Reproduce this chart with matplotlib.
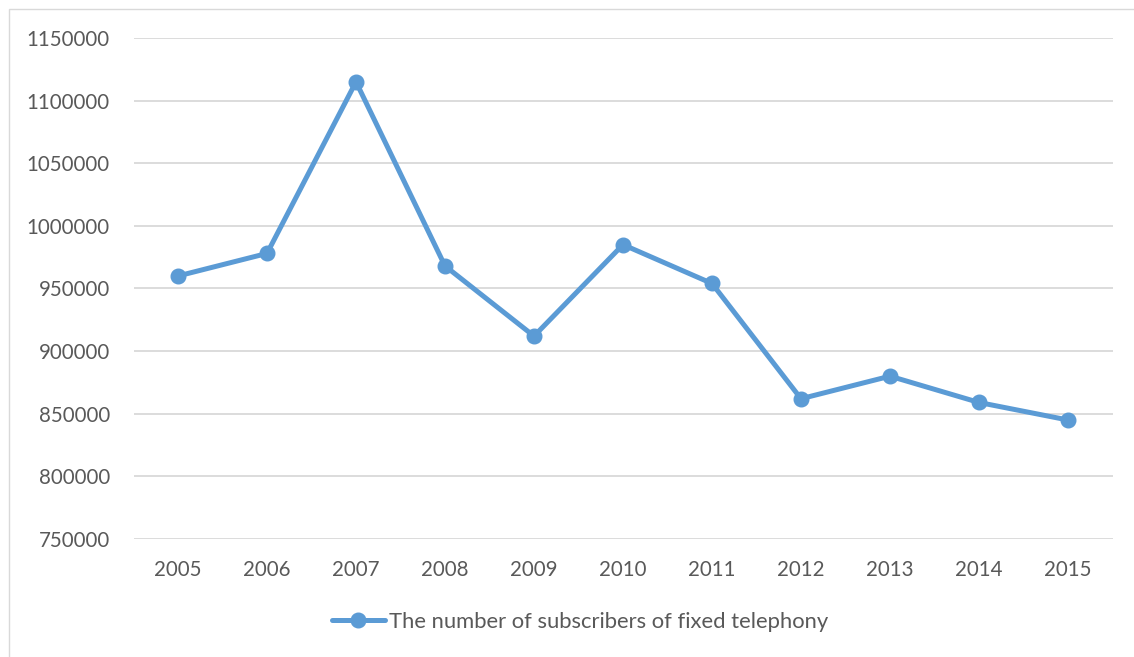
import matplotlib
matplotlib.use("Agg")
import matplotlib.pyplot as plt
from matplotlib.patches import Rectangle
from matplotlib.lines import Line2D

years = ["2005", "2006", "2007", "2008", "2009", "2010", "2011", "2012", "2013", "2014", "2015"]
subscribers = [960000, 978000, 1115000, 968000, 912000, 985000, 954000, 862000, 880000, 859000, 845000]
series_name = "The number of subscribers of fixed telephony"
y_ticks = [750000, 800000, 850000, 900000, 950000, 1000000, 1050000, 1100000, 1150000]

plt.rcParams['font.family'] = ['Lato', 'DejaVu Sans']
text_color = '#595959'
line_color = '#5B9BD5'

fig = plt.figure(figsize=(11.34, 6.57), dpi=100)
fig.patches.append(Rectangle((9/1134, -0.01), 1.02, 1 - 9/657 + 0.01, transform=fig.transFigure,
                             fill=False, edgecolor='#D9D9D9', linewidth=1.0))
ax = fig.add_axes([133.5/1134, 1 - 539/657, 979/1134, 501/657])

x = list(range(len(years)))
ax.plot(x, subscribers, color=line_color, linewidth=3.6, marker='o', markersize=10.5,
        markerfacecolor=line_color, markeredgecolor=line_color, solid_capstyle='round',
        label=series_name, zorder=3)

ax.set_xlim(-0.5, len(years) - 0.5)
ax.set_ylim(750000, 1150000)
ax.set_yticks(y_ticks)
ax.set_yticklabels([str(v) for v in y_ticks])
ax.set_xticks(x)
ax.set_xticklabels(years)
ax.grid(axis='y', color='#D9D9D9', linewidth=1.3, zorder=0)
ax.set_axisbelow(True)
for s in ax.spines.values():
    s.set_visible(False)
ax.tick_params(axis='both', length=0, labelsize=14.8, colors=text_color)
ax.tick_params(axis='y', pad=17)
ax.tick_params(axis='x', pad=15)

handle = Line2D([0], [0], color=line_color, linewidth=3.6, marker='o', markersize=10.5,
                solid_capstyle='round')
fig.legend([handle], [series_name], loc='center', bbox_to_anchor=(580/1134, 1 - 622/657),
           frameon=False, fontsize=15.8, labelcolor=text_color, handlelength=2.4,
           handletextpad=0.2)

fig.savefig('out.png', dpi=100)
